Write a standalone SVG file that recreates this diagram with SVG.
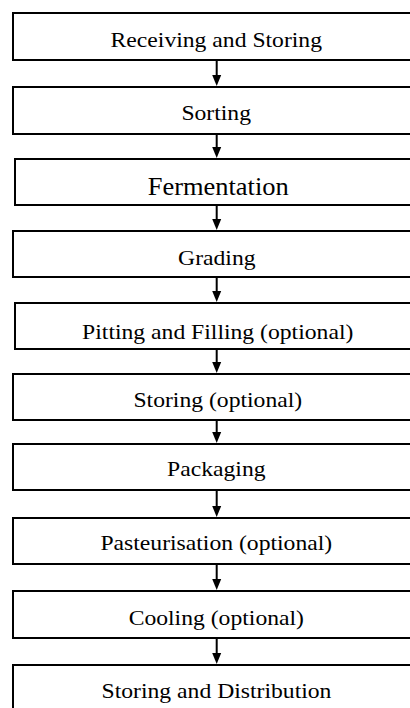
<svg xmlns="http://www.w3.org/2000/svg" width="410" height="708" viewBox="0 0 410 708">
  <style>
    .box { fill: #ffffff; stroke: #000000; stroke-width: 2; }
    .lbl { font-family: "Liberation Serif", "Times New Roman", Times, serif; font-size: 21.5px; fill: #000000; text-anchor: middle; }
    .big { font-size: 24.5px; }
    .flow { stroke: #000000; stroke-width: 2; fill: none; }
    .tip { fill: #000000; }
  </style>
  <rect width="410" height="708" fill="#ffffff"/>

  <g id="connectors">
    <path class="flow" d="M216.7,61 V80"/>
    <polygon class="tip" points="212.2,75 221.2,75 216.7,86"/>
    <path class="flow" d="M216.7,135 V152"/>
    <polygon class="tip" points="212.2,147 221.2,147 216.7,158"/>
    <path class="flow" d="M216.7,206 V224"/>
    <polygon class="tip" points="212.2,219 221.2,219 216.7,230"/>
    <path class="flow" d="M216.7,278 V296"/>
    <polygon class="tip" points="212.2,291 221.2,291 216.7,302"/>
    <path class="flow" d="M216.7,350 V367"/>
    <polygon class="tip" points="212.2,362 221.2,362 216.7,373"/>
    <path class="flow" d="M216.7,421 V437"/>
    <polygon class="tip" points="212.2,432 221.2,432 216.7,443"/>
    <path class="flow" d="M216.7,491 V511"/>
    <polygon class="tip" points="212.2,506 221.2,506 216.7,517"/>
    <path class="flow" d="M216.7,565 V584"/>
    <polygon class="tip" points="212.2,579 221.2,579 216.7,590"/>
    <path class="flow" d="M216.7,639 V658"/>
    <polygon class="tip" points="212.2,653 221.2,653 216.7,664"/>
  </g>

  <g id="receiving">
    <rect class="box" x="13" y="13" width="400" height="47"/>
    <text class="lbl" transform="translate(216.3,46.5) scale(1.1,1)">Receiving and Storing</text>
  </g>
  <g id="sorting">
    <rect class="box" x="13" y="87" width="400" height="47"/>
    <text class="lbl" transform="translate(216.2,120) scale(1.1,1)">Sorting</text>
  </g>
  <g id="fermentation">
    <rect class="box" x="15" y="159" width="400" height="46"/>
    <text class="lbl big" transform="translate(218.2,194.5) scale(1.08,1)">Fermentation</text>
  </g>
  <g id="grading">
    <rect class="box" x="13" y="231" width="400" height="46"/>
    <text class="lbl" transform="translate(216.8,265) scale(1.1,1)">Grading</text>
  </g>
  <g id="pitting">
    <rect class="box" x="15" y="303" width="400" height="46"/>
    <text class="lbl" transform="translate(217.7,339.3) scale(1.1,1)">Pitting and Filling (optional)</text>
  </g>
  <g id="storing-optional">
    <rect class="box" x="13" y="374" width="400" height="46"/>
    <text class="lbl" transform="translate(217.8,407.3) scale(1.1,1)">Storing (optional)</text>
  </g>
  <g id="packaging">
    <rect class="box" x="13" y="444" width="400" height="46"/>
    <text class="lbl" transform="translate(216.3,475.7) scale(1.1,1)">Packaging</text>
  </g>
  <g id="pasteurisation">
    <rect class="box" x="13" y="518" width="400" height="46"/>
    <text class="lbl" transform="translate(216.3,550) scale(1.1,1)">Pasteurisation (optional)</text>
  </g>
  <g id="cooling">
    <rect class="box" x="13" y="591" width="400" height="47"/>
    <text class="lbl" transform="translate(216.3,625) scale(1.1,1)">Cooling (optional)</text>
  </g>
  <g id="distribution">
    <rect class="box" x="13" y="665" width="400" height="60"/>
    <text class="lbl" transform="translate(216.5,698.3) scale(1.1,1)">Storing and Distribution</text>
  </g>
</svg>
